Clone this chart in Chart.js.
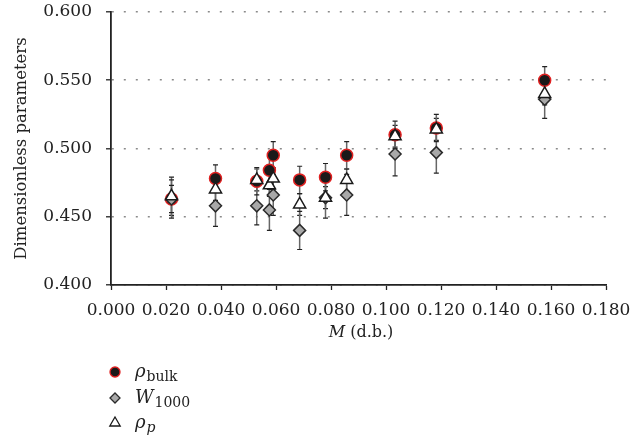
<!DOCTYPE html>
<html>
<head>
<meta charset="utf-8">
<script src="https://cdn.jsdelivr.net/npm/chart.js@4/dist/chart.umd.min.js"></script>
<style>
  html, body { margin: 0; padding: 0; background: #fff; }
  #wrap { width: 640px; height: 438px; position: relative; }
</style>
</head>
<body>
<div id="wrap"><canvas id="chart"></canvas></div>
<script>
// Moisture content (d.b.)
const moisture = [0.022, 0.038, 0.053, 0.0576, 0.059, 0.0686, 0.078, 0.0857, 0.1033, 0.1183, 0.1577];

// Dimensionless parameters per series
const rhoBulk = [0.463, 0.478, 0.476, 0.484, 0.495, 0.477, 0.479, 0.495, 0.510, 0.515, 0.550];
const w1000   = [0.463, 0.458, 0.458, 0.455, 0.466, 0.440, 0.464, 0.466, 0.496, 0.497, 0.536];
const rhoP    = [0.465, 0.470, 0.477, 0.473, 0.478, 0.459, 0.464, 0.477, 0.509, 0.514, 0.540];

// Standard deviations (error bars)
const rhoBulkErr = [0.010, 0.010, 0.010, 0.010, 0.010, 0.010, 0.010, 0.010, 0.010, 0.010, 0.010];
const w1000Err   = [0.014, 0.015, 0.014, 0.015, 0.015, 0.014, 0.015, 0.015, 0.016, 0.015, 0.014];
const rhoPErr    = [0.014, 0.008, 0.008, 0.008, 0.008, 0.008, 0.008, 0.008, 0.008, 0.008, 0.008];

const yTicks = [0.400, 0.450, 0.500, 0.550, 0.600];
const xTicks = [0.000, 0.020, 0.040, 0.060, 0.080, 0.100, 0.120, 0.140, 0.160, 0.180];

const SERIF = '"DejaVu Serif", "Liberation Serif", serif';

function toPoints(ys, errs) {
    return moisture.map((m, i) => ({ x: m, y: ys[i], err: errs[i] }));
}

/**
 * Vertical error bars with caps, drawn through the chart scales
 */
const errorBars = {
    id: 'errorBars',
    beforeDatasetsDraw(chart) {
        const ctx = chart.ctx;
        const xs = chart.scales.x;
        const ys = chart.scales.y;
        ctx.save();
        chart.data.datasets.forEach(ds => {
            ds.data.forEach(p => {
                const px = xs.getPixelForValue(p.x);
                const top = ys.getPixelForValue(p.y + p.err);
                const bot = ys.getPixelForValue(p.y - p.err);
                ctx.strokeStyle = '#666';
                ctx.lineWidth = 1.5;
                ctx.beginPath();
                ctx.moveTo(px, top);
                ctx.lineTo(px, bot);
                ctx.stroke();
                ctx.strokeStyle = '#222';
                ctx.lineWidth = 1.2;
                ctx.beginPath();
                ctx.moveTo(px - 2.5, top);
                ctx.lineTo(px + 2.5, top);
                ctx.moveTo(px - 2.5, bot);
                ctx.lineTo(px + 2.5, bot);
                ctx.stroke();
            });
        });
        ctx.restore();
    }
};

/**
 * X axis title with italic M, and the legend below the chart
 */
const extras = {
    id: 'extras',
    afterDraw(chart) {
        const ctx = chart.ctx;
        ctx.save();
        ctx.fillStyle = '#222';
        ctx.textBaseline = 'alphabetic';

        // x axis title
        const italic = 'italic 16px ' + SERIF;
        const normal = '16px ' + SERIF;
        ctx.font = italic;
        const wM = ctx.measureText('M').width;
        ctx.font = normal;
        const wRest = ctx.measureText(' (d.b.)').width;
        const x0 = 361 - (wM + wRest) / 2;
        ctx.font = italic;
        ctx.fillText('M', x0, 337);
        ctx.font = normal;
        ctx.fillText(' (d.b.)', x0 + wM, 337);

        // legend
        const entries = [
            { ds: 2, main: 'ρ', sub: 'bulk', subItalic: false, y: 372 },
            { ds: 1, main: 'W', sub: '1000', subItalic: false, y: 398 },
            { ds: 0, main: 'ρ', sub: 'p', subItalic: true, y: 423 }
        ];
        entries.forEach(e => {
            const ds = chart.data.datasets[e.ds];
            ctx.fillStyle = ds.backgroundColor;
            ctx.strokeStyle = ds.borderColor;
            ctx.lineWidth = 1.3;
            Chart.helpers.drawPoint(ctx, {
                pointStyle: ds.pointStyle,
                radius: ds.legendRadius,
                rotation: 0,
                borderWidth: 1.3
            }, 115, e.y);
            ctx.fillStyle = '#222';
            ctx.font = 'italic 18px ' + SERIF;
            ctx.fillText(e.main, 135, e.y + 5);
            const wMain = ctx.measureText(e.main).width;
            ctx.font = (e.subItalic ? 'italic ' : '') + '14px ' + SERIF;
            ctx.fillText(e.sub, 135 + wMain + 1, e.y + 9);
        });
        ctx.restore();
    }
};

new Chart(document.getElementById('chart'), {
    type: 'scatter',
    data: {
        datasets: [
            {
                label: 'ρp',
                data: toPoints(rhoP, rhoPErr),
                pointStyle: 'triangle',
                pointRadius: 7,
                legendRadius: 6,
                backgroundColor: '#ffffff',
                borderColor: '#1a1a1a',
                borderWidth: 1.5,
                order: 0
            },
            {
                label: 'W1000',
                data: toPoints(w1000, w1000Err),
                pointStyle: 'rectRot',
                pointRadius: 6,
                legendRadius: 5,
                backgroundColor: '#a8a8a8',
                borderColor: '#2a2a2a',
                borderWidth: 1.5,
                order: 1
            },
            {
                label: 'ρbulk',
                data: toPoints(rhoBulk, rhoBulkErr),
                pointStyle: 'circle',
                pointRadius: 6,
                legendRadius: 5,
                backgroundColor: '#1a1a1a',
                borderColor: '#e02020',
                borderWidth: 1.5,
                order: 2
            }
        ]
    },
    options: {
        responsive: true,
        maintainAspectRatio: false,
        animation: false,
        layout: { padding: { top: 12, right: 34, bottom: 93, left: 0 } },
        plugins: {
            legend: { display: false },
            tooltip: { enabled: false }
        },
        scales: {
            x: {
                type: 'linear',
                min: 0,
                max: 0.18,
                afterBuildTicks: axis => { axis.ticks = xTicks.map(v => ({ value: v })); },
                afterFit: axis => {
                    axis.height = 60;
                    axis.paddingLeft = 0;
                    axis.paddingRight = 0;
                },
                ticks: {
                    callback: v => v.toFixed(3),
                    color: '#222',
                    font: { family: SERIF, size: 17 },
                    padding: 10,
                    maxRotation: 0
                },
                grid: {
                    drawOnChartArea: false,
                    drawTicks: true,
                    tickLength: 5,
                    tickColor: '#222',
                    tickWidth: 1.3
                },
                border: { color: '#222', width: 1.8 }
            },
            y: {
                type: 'linear',
                min: 0.4,
                max: 0.6,
                afterBuildTicks: axis => { axis.ticks = yTicks.map(v => ({ value: v })); },
                afterFit: axis => {
                    axis.width = 111;
                    axis.paddingTop = 0;
                    axis.paddingBottom = 0;
                },
                ticks: {
                    callback: v => v.toFixed(3),
                    color: '#222',
                    font: { family: SERIF, size: 17 },
                    padding: 14
                },
                grid: {
                    color: '#8a8a8a',
                    lineWidth: 1.6,
                    tickBorderDash: [],
                    tickColor: '#222',
                    tickWidth: 1.3,
                    tickLength: 5
                },
                border: { color: '#222', width: 1.8, dash: [2, 10] },
                title: {
                    display: true,
                    text: 'Dimensionless parameters',
                    color: '#222',
                    font: { family: SERIF, size: 16.5 },
                    padding: { top: 12, bottom: 0 }
                }
            }
        }
    },
    plugins: [errorBars, extras]
});
</script>
</body>
</html>
